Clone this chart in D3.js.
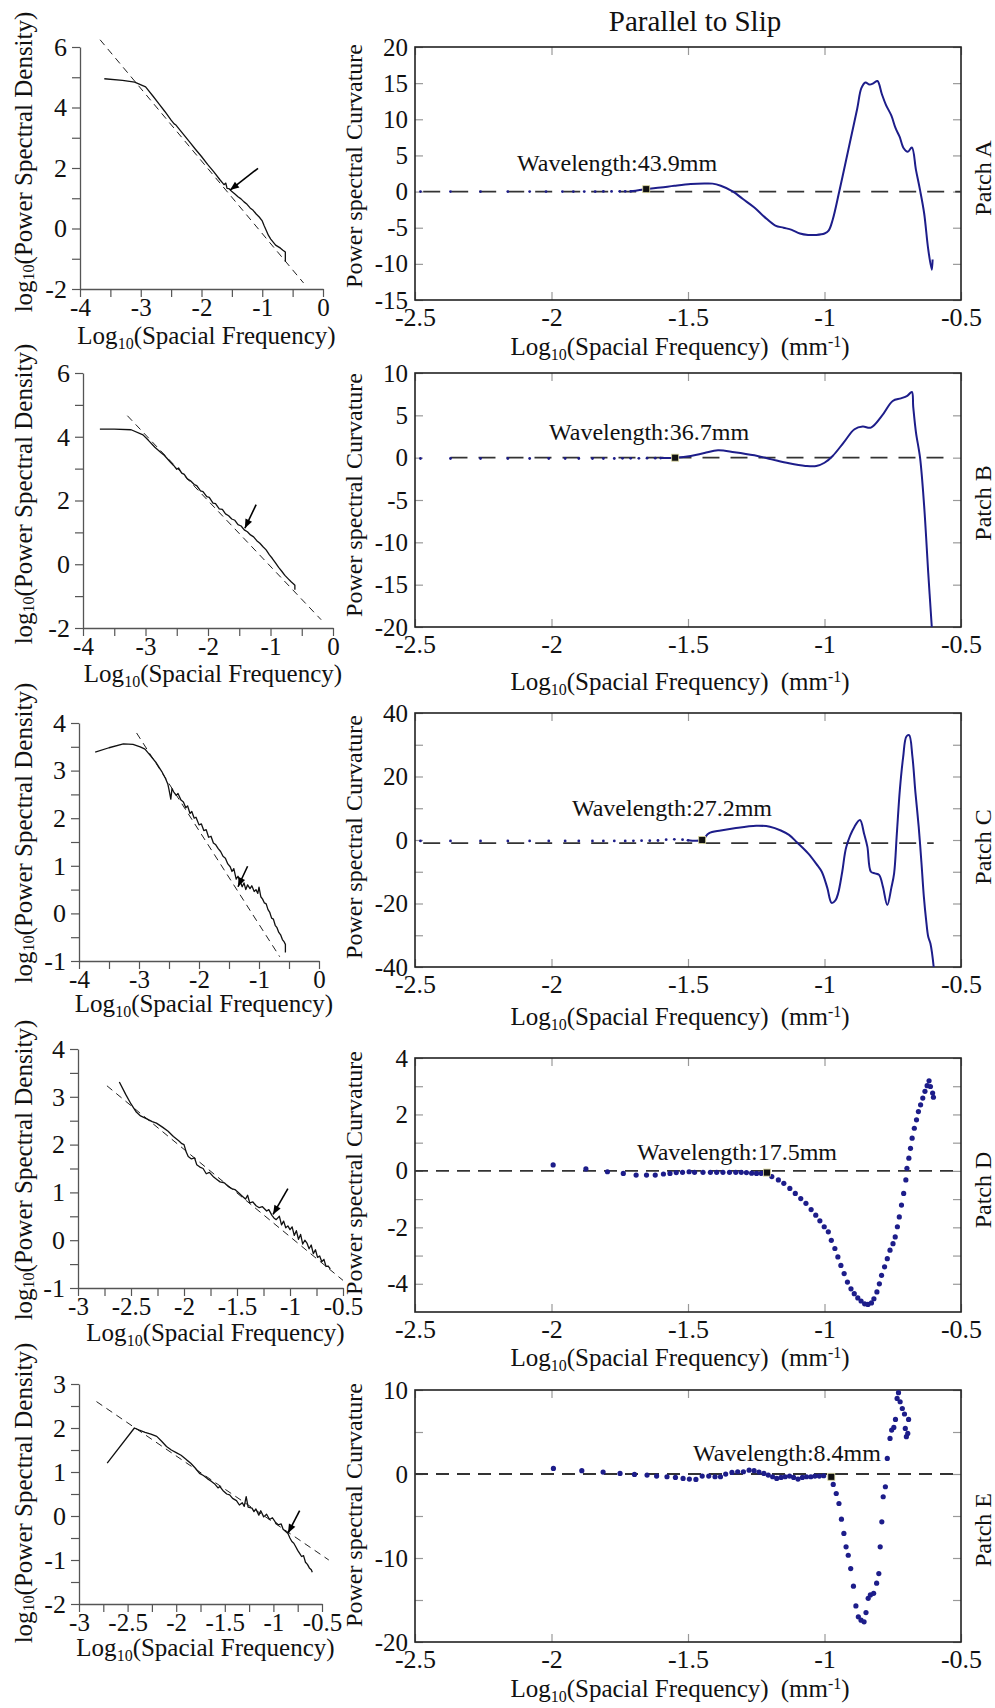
<!DOCTYPE html>
<html>
<head>
<meta charset="utf-8">
<script src="https://cdn.jsdelivr.net/npm/d3@7"></script>
<style>
  body { margin: 0; background: #fff; }
  svg { display: block; }
</style>
</head>
<body>
<svg id="fig" width="995" height="1708"></svg>
<script>
// ---------- left column: log10 PSD vs log10 frequency ----------
const psdA = [[-3.6,4.95],[-3.3,4.9],[-3.1,4.84],[-2.92,4.68],[-2.8,4.38],[-2.7,4.12],[-2.6,3.86],[-2.5,3.58],[-2.45,3.46],[-2.42,3.42],[-2.3,3.12],[-2.2,2.87],[-2.1,2.62],[-2.0,2.38],[-1.9,2.12],[-1.8,1.88],[-1.7,1.62],[-1.63,1.45],[-1.6,1.5],[-1.58,1.33],[-1.55,1.32],[-1.5,1.22],[-1.45,1.14],[-1.4,1.05],[-1.35,0.98],[-1.3,0.88],[-1.25,0.8],[-1.2,0.68],[-1.15,0.6],[-1.1,0.48],[-1.05,0.38],[-1.0,0.25],[-0.97,0.1],[-0.93,-0.08],[-0.9,-0.22],[-0.86,-0.35],[-0.82,-0.45],[-0.78,-0.55],[-0.74,-0.6],[-0.7,-0.65],[-0.66,-0.72],[-0.62,-0.78],[-0.62,-1.1]];
const fitA = [[-3.67,6.24],[-0.32,-1.8]];
const arrowA = [[-1.07,1.99],[-1.53,1.27]];

const psdB = [[-3.73,4.24],[-3.5,4.24],[-3.23,4.22],[-3.04,4.06],[-2.95,3.88],[-2.85,3.67],[-2.75,3.5],[-2.7,3.42],[-2.6,3.2],[-2.55,3.1],[-2.5,2.98],[-2.47,3.02],[-2.42,2.86],[-2.38,2.82],[-2.33,2.68],[-2.28,2.62],[-2.22,2.5],[-2.18,2.47],[-2.12,2.3],[-2.08,2.28],[-2.02,2.12],[-1.98,2.1],[-1.92,1.92],[-1.88,1.9],[-1.82,1.74],[-1.77,1.72],[-1.72,1.58],[-1.67,1.52],[-1.62,1.42],[-1.57,1.38],[-1.52,1.24],[-1.47,1.2],[-1.42,1.08],[-1.37,1.02],[-1.32,0.92],[-1.27,0.86],[-1.22,0.74],[-1.17,0.66],[-1.12,0.55],[-1.07,0.45],[-1.02,0.3],[-0.97,0.18],[-0.92,0.04],[-0.87,-0.1],[-0.82,-0.22],[-0.77,-0.35],[-0.72,-0.45],[-0.67,-0.55],[-0.63,-0.62],[-0.61,-0.66],[-0.61,-0.8]];
const fitB = [[-3.29,4.66],[-0.19,-1.74]];
const arrowB = [[-1.23,1.87],[-1.41,1.13]];

const psdC = [[-3.73,3.39],[-3.5,3.48],[-3.26,3.56],[-3.1,3.55],[-2.98,3.5],[-2.9,3.45],[-2.8,3.3],[-2.71,3.16],[-2.62,2.98],[-2.56,2.84],[-2.52,2.72],[-2.5,2.6],[-2.47,2.4],[-2.45,2.62],[-2.42,2.55],[-2.38,2.48],[-2.35,2.52],[-2.3,2.38],[-2.26,2.34],[-2.22,2.22],[-2.19,2.26],[-2.15,2.1],[-2.12,2.14],[-2.08,2.0],[-2.05,2.02],[-2.0,1.86],[-1.96,1.88],[-1.92,1.74],[-1.88,1.76],[-1.84,1.6],[-1.8,1.62],[-1.76,1.48],[-1.72,1.44],[-1.68,1.36],[-1.64,1.3],[-1.6,1.2],[-1.56,1.16],[-1.52,1.04],[-1.48,0.98],[-1.45,0.88],[-1.42,0.94],[-1.38,0.72],[-1.35,0.78],[-1.31,0.66],[-1.28,0.56],[-1.25,0.64],[-1.22,0.5],[-1.19,0.6],[-1.15,0.52],[-1.12,0.58],[-1.08,0.46],[-1.05,0.5],[-1.02,0.42],[-1.0,0.55],[-0.97,0.35],[-0.94,0.3],[-0.91,0.22],[-0.88,0.2],[-0.85,0.08],[-0.82,0.02],[-0.79,-0.1],[-0.76,-0.12],[-0.73,-0.25],[-0.7,-0.3],[-0.67,-0.4],[-0.64,-0.45],[-0.61,-0.55],[-0.58,-0.6],[-0.56,-0.65],[-0.56,-0.82]];
const fitC = [[-3.04,3.79],[-0.655,-0.91]];
const arrowC = [[-1.19,0.99],[-1.35,0.56]];

const psdD = [[-2.61,3.31],[-2.55,3.05],[-2.5,2.85],[-2.45,2.68],[-2.41,2.6],[-2.36,2.55],[-2.3,2.48],[-2.26,2.45],[-2.2,2.36],[-2.15,2.28],[-2.1,2.17],[-2.05,2.08],[-2.02,2.02],[-2.0,2.0],[-1.98,1.85],[-1.96,1.75],[-1.93,1.7],[-1.9,1.72],[-1.88,1.58],[-1.85,1.53],[-1.82,1.5],[-1.79,1.39],[-1.76,1.42],[-1.72,1.32],[-1.69,1.27],[-1.66,1.22],[-1.62,1.2],[-1.58,1.12],[-1.55,1.08],[-1.52,1.06],[-1.48,0.98],[-1.45,0.92],[-1.42,0.86],[-1.4,0.94],[-1.38,0.78],[-1.35,0.8],[-1.32,0.72],[-1.29,0.68],[-1.26,0.7],[-1.22,0.61],[-1.2,0.64],[-1.17,0.52],[-1.15,0.46],[-1.13,0.43],[-1.1,0.5],[-1.08,0.32],[-1.06,0.4],[-1.04,0.26],[-1.02,0.3],[-1.0,0.22],[-0.98,0.28],[-0.96,0.1],[-0.94,0.2],[-0.92,0.02],[-0.9,0.12],[-0.88,-0.08],[-0.86,0.0],[-0.84,-0.06],[-0.82,-0.18],[-0.8,-0.1],[-0.78,-0.28],[-0.76,-0.2],[-0.74,-0.36],[-0.72,-0.33],[-0.7,-0.45],[-0.68,-0.4],[-0.66,-0.55],[-0.64,-0.54],[-0.62,-0.6]];
const fitD = [[-2.727,3.23],[-0.5,-0.84]];
const arrowD = [[-1.02,1.08],[-1.16,0.54]];

const psdE = [[-2.71,1.2],[-2.43,2.0],[-2.38,1.95],[-2.32,1.9],[-2.26,1.86],[-2.2,1.81],[-2.15,1.7],[-2.1,1.58],[-2.05,1.5],[-2.0,1.44],[-1.95,1.38],[-1.89,1.27],[-1.85,1.2],[-1.8,1.08],[-1.76,0.97],[-1.72,0.92],[-1.68,0.85],[-1.64,0.79],[-1.6,0.72],[-1.57,0.64],[-1.55,0.67],[-1.52,0.58],[-1.48,0.5],[-1.45,0.48],[-1.42,0.4],[-1.38,0.35],[-1.35,0.25],[-1.32,0.3],[-1.3,0.22],[-1.28,0.44],[-1.26,0.2],[-1.22,0.18],[-1.2,0.1],[-1.18,0.16],[-1.15,0.02],[-1.13,0.12],[-1.1,-0.02],[-1.07,0.04],[-1.04,-0.08],[-1.01,-0.04],[-0.98,-0.14],[-0.95,-0.2],[-0.92,-0.18],[-0.9,-0.3],[-0.87,-0.36],[-0.85,-0.4],[-0.83,-0.5],[-0.81,-0.58],[-0.79,-0.62],[-0.77,-0.7],[-0.75,-0.78],[-0.73,-0.85],[-0.71,-0.92],[-0.69,-0.9],[-0.67,-1.05],[-0.65,-1.1],[-0.63,-1.18],[-0.61,-1.22],[-0.6,-1.28]];
const fitE = [[-2.82,2.6],[-0.43,-1.0]];
const arrowE = [[-0.73,0.12],[-0.85,-0.39]];

// tick values / labels, left column
const leftXTicksWide = [-4,-3.5,-3,-2.5,-2,-1.5,-1,-0.5,0];
const leftXLabelsWide = [-4,-3,-2,-1,0];
const leftXTicksNarrow = [-3,-2.75,-2.5,-2.25,-2,-1.75,-1.5,-1.25,-1,-0.75,-0.5];
const leftXLabelsNarrow = [-3,-2.5,-2,-1.5,-1,-0.5];
const leftYTicks6 = [-2,-1,0,1,2,3,4,5,6];
const leftYLabels6 = [-2,0,2,4,6];
const leftYTicks4 = [-1,-0.5,0,0.5,1,1.5,2,2.5,3,3.5,4];
const leftYLabels4 = [-1,0,1,2,3,4];
const leftYTicks3 = [-2,-1.5,-1,-0.5,0,0.5,1,1.5,2,2.5,3];
const leftYLabels3 = [-2,-1,0,1,2,3];

// ---------- right column: power spectral curvature ----------
const sparseA = [[-2.48,0],[-2.37,0],[-2.26,0],[-2.16,0],[-2.08,0],[-2.02,0],[-1.96,0],[-1.92,0],[-1.88,0],[-1.84,0],[-1.81,0.02],[-1.78,0.02],[-1.75,0.03],[-1.73,0.03],[-1.71,0.04]];
const curvA = [[-1.71,0.04],[-1.653,0.33],[-1.6,0.55],[-1.55,0.8],[-1.49,1.05],[-1.44,1.12],[-1.41,1.1],[-1.38,0.8],[-1.335,0.0],[-1.3,-1.0],[-1.257,-2.2],[-1.22,-3.5],[-1.18,-4.7],[-1.15,-5.0],[-1.12,-5.3],[-1.09,-5.8],[-1.06,-6.0],[-1.03,-6.0],[-1.0,-5.8],[-0.985,-5.4],[-0.97,-3.9],[-0.946,0.0],[-0.92,4.5],[-0.9,8.0],[-0.88,11.5],[-0.865,14.3],[-0.85,15.1],[-0.835,14.8],[-0.82,15.0],[-0.806,15.3],[-0.79,13.5],[-0.775,12.0],[-0.755,10.5],[-0.74,8.8],[-0.725,7.6],[-0.71,6.0],[-0.695,5.5],[-0.68,6.1],[-0.665,3.0],[-0.65,0.2],[-0.635,-3.0],[-0.62,-8.0],[-0.607,-10.8],[-0.604,-9.4]];
const markA = [-1.653,0.33];

const sparseB = [[-2.48,-0.1],[-2.37,-0.1],[-2.26,-0.1],[-2.16,-0.1],[-2.08,-0.1],[-2.01,-0.1],[-1.95,-0.1],[-1.9,-0.1],[-1.85,-0.1],[-1.81,-0.1],[-1.77,-0.1],[-1.74,-0.08],[-1.71,-0.08],[-1.68,-0.08],[-1.65,-0.06],[-1.62,-0.06],[-1.6,-0.05]];
const curvB = [[-1.6,-0.05],[-1.547,0.0],[-1.49,0.2],[-1.44,0.55],[-1.39,0.87],[-1.33,0.65],[-1.257,0.28],[-1.194,-0.2],[-1.13,-0.67],[-1.07,-0.97],[-1.03,-0.99],[-1.0,-0.6],[-0.97,0.2],[-0.93,1.78],[-0.89,3.36],[-0.86,3.67],[-0.83,3.55],[-0.79,4.93],[-0.75,6.7],[-0.72,7.0],[-0.697,7.3],[-0.68,7.76],[-0.675,6.0],[-0.665,3.0],[-0.65,0],[-0.635,-5.7],[-0.62,-13.6],[-0.607,-20]];
const markB = [-1.547,0];

const sparseC = [[-2.48,-0.3],[-2.37,-0.3],[-2.26,-0.3],[-2.16,-0.3],[-2.08,-0.3],[-2.01,-0.3],[-1.95,-0.3],[-1.9,-0.3],[-1.85,-0.3],[-1.81,-0.3],[-1.77,-0.3],[-1.73,-0.3],[-1.7,-0.25],[-1.67,-0.2],[-1.64,-0.2],[-1.61,-0.15],[-1.58,0.1],[-1.55,0.2],[-1.52,0.1],[-1.5,-0.1]];
const curvC = [[-1.5,-0.1],[-1.448,0],[-1.424,2.1],[-1.38,3.0],[-1.33,3.7],[-1.25,4.5],[-1.2,4.2],[-1.16,3.0],[-1.13,1.6],[-1.1,-0.8],[-1.06,-4.2],[-1.03,-7.5],[-1.01,-10],[-0.99,-15],[-0.974,-19.8],[-0.96,-19],[-0.95,-16.8],[-0.935,-10],[-0.92,-2.1],[-0.89,4.2],[-0.87,6.3],[-0.855,2],[-0.843,-2.1],[-0.83,-10],[-0.815,-10.5],[-0.8,-11],[-0.786,-14.7],[-0.77,-20.5],[-0.755,-15],[-0.745,-10.5],[-0.735,2],[-0.724,15.8],[-0.712,26],[-0.7,32.6],[-0.69,33],[-0.678,26.3],[-0.667,15],[-0.655,4.2],[-0.645,-7],[-0.636,-17.9],[-0.628,-25],[-0.62,-30.5],[-0.612,-32.6],[-0.6,-40]];
const markC = [-1.448,0];

const dotsD = [[-1.994,0.21],[-1.874,0.07],[-1.795,-0.03],[-1.737,-0.09],[-1.69,-0.15],[-1.652,-0.15],[-1.62,-0.15],[-1.59,-0.11],[-1.566,-0.09],[-1.543,-0.06],[-1.52,-0.05],[-1.496,-0.03],[-1.476,-0.05],[-1.445,-0.05],[-1.418,-0.05],[-1.395,-0.05],[-1.372,-0.05],[-1.348,-0.05],[-1.325,-0.05],[-1.305,-0.05],[-1.286,-0.06],[-1.267,-0.08],[-1.249,-0.09],[-1.231,-0.09],[-1.193,-0.2],[-1.169,-0.32],[-1.149,-0.44],[-1.127,-0.62],[-1.107,-0.8],[-1.087,-0.98],[-1.068,-1.15],[-1.049,-1.37],[-1.032,-1.57],[-1.017,-1.77],[-1.001,-1.98],[-0.986,-2.16],[-0.975,-2.46],[-0.962,-2.75],[-0.951,-3.05],[-0.94,-3.35],[-0.928,-3.64],[-0.916,-3.94],[-0.903,-4.18],[-0.891,-4.35],[-0.878,-4.5],[-0.866,-4.61],[-0.853,-4.71],[-0.841,-4.73],[-0.828,-4.68],[-0.819,-4.53],[-0.808,-4.29],[-0.799,-4.0],[-0.791,-3.7],[-0.78,-3.4],[-0.77,-3.11],[-0.76,-2.81],[-0.749,-2.58],[-0.741,-2.34],[-0.733,-1.98],[-0.726,-1.63],[-0.718,-1.21],[-0.71,-0.8],[-0.702,-0.32],[-0.698,0.09],[-0.691,0.45],[-0.685,0.8],[-0.679,1.16],[-0.671,1.51],[-0.663,1.81],[-0.656,2.1],[-0.648,2.34],[-0.64,2.58],[-0.632,2.82],[-0.624,3.02],[-0.617,3.19],[-0.612,2.99],[-0.604,2.76],[-0.601,2.61]];
const markD = [-1.211,-0.06];

const dotsE = [[-1.993,0.66],[-1.889,0.39],[-1.811,0.23],[-1.749,0.07],[-1.696,-0.05],[-1.65,-0.13],[-1.615,-0.25],[-1.577,-0.33],[-1.546,-0.41],[-1.518,-0.53],[-1.495,-0.61],[-1.471,-0.65],[-1.448,-0.25],[-1.424,-0.25],[-1.401,-0.33],[-1.381,-0.33],[-1.362,-0.01],[-1.339,0.19],[-1.318,0.27],[-1.297,0.27],[-1.276,0.46],[-1.258,0.39],[-1.24,0.23],[-1.222,0.07],[-1.206,-0.13],[-1.19,-0.33],[-1.175,-0.53],[-1.159,-0.41],[-1.144,-0.33],[-1.128,-0.25],[-1.113,-0.41],[-1.097,-0.61],[-1.081,-0.41],[-1.066,-0.33],[-1.05,-0.33],[-1.035,-0.25],[-1.019,-0.25],[-1.003,-0.21],[-0.968,-1.24],[-0.957,-2.32],[-0.947,-3.51],[-0.938,-5.38],[-0.929,-7.08],[-0.921,-8.67],[-0.913,-9.67],[-0.904,-11.26],[-0.894,-13.36],[-0.885,-15.7],[-0.876,-17.0],[-0.866,-17.4],[-0.855,-17.6],[-0.848,-16.5],[-0.84,-14.8],[-0.832,-14.4],[-0.82,-14.2],[-0.809,-13.0],[-0.801,-11.85],[-0.796,-8.67],[-0.79,-5.69],[-0.785,-2.71],[-0.777,-1.52],[-0.77,1.86],[-0.76,4.24],[-0.754,5.23],[-0.746,5.55],[-0.74,6.5],[-0.734,9.0],[-0.729,9.68],[-0.723,8.6],[-0.715,7.8],[-0.707,7.14],[-0.704,5.43],[-0.7,4.44],[-0.695,4.83],[-0.692,6.5]];
const markE = [-0.975,-0.33];

const zeroLevels = [0, 0, -1, 0, 0];
const zeroSpans = [[-2.47,-0.5],[-2.37,-0.53],[-2.47,-0.6],[-2.5,-0.5],[-2.5,-0.5]];
const wavelengths = ['Wavelength:43.9mm','Wavelength:36.7mm','Wavelength:27.2mm','Wavelength:17.5mm','Wavelength:8.4mm'];
const patches = ['Patch A','Patch B','Patch C','Patch D','Patch E'];

const rightXTicks = [-2.5,-2,-1.5,-1,-0.5];
const rightYTicksA = [-15,-10,-5,0,5,10,15,20];
const rightYTicksB = [-20,-15,-10,-5,0,5,10];
const rightYTicksC = [-40,-30,-20,-10,0,10,20,30,40];
const rightYLabelsC = [-40,-20,0,20,40];
const rightYTicksD = [-4,-3,-2,-1,0,1,2,3,4];
const rightYLabelsD = [-4,-2,0,2,4];
const rightYTicksE = [-20,-15,-10,-5,0,5,10];
const rightYLabelsE = [-20,-10,0,10];

// ---------- drawing ----------
const FONT = '"Liberation Serif","Times New Roman",Times,serif';
const NAVY = '#1d1d8a';
const svg = d3.select('#fig').attr('font-family', FONT);

svg.append('defs').append('marker')
  .attr('id', 'arr').attr('viewBox', '0 0 10 10')
  .attr('refX', 10).attr('refY', 5)
  .attr('markerWidth', 12).attr('markerHeight', 9)
  .attr('markerUnits', 'userSpaceOnUse').attr('orient', 'auto')
  .append('path').attr('d', 'M0,1 L10,5 L0,9 Z').attr('fill', '#000');

const leftPanels = [
  {data: psdA, fit: fitA, arrow: arrowA, xDom: [-4,0], yDom: [-2,6], xT: leftXTicksWide, xL: leftXLabelsWide, yT: leftYTicks6, yL: leftYLabels6, px: [80,323], py: [289,47], titleY: 344, yMid: 162},
  {data: psdB, fit: fitB, arrow: arrowB, xDom: [-4,0], yDom: [-2,6], xT: leftXTicksWide, xL: leftXLabelsWide, yT: leftYTicks6, yL: leftYLabels6, px: [83,333], py: [628,373], titleY: 682, yMid: 494},
  {data: psdC, fit: fitC, arrow: arrowC, xDom: [-4,0], yDom: [-1,4], xT: leftXTicksWide, xL: leftXLabelsWide, yT: leftYTicks4, yL: leftYLabels4, px: [79,319], py: [961,723], titleY: 1012, yMid: 833},
  {data: psdD, fit: fitD, arrow: arrowD, xDom: [-3,-0.5], yDom: [-1,4], xT: leftXTicksNarrow, xL: leftXLabelsNarrow, yT: leftYTicks4, yL: leftYLabels4, px: [78,343], py: [1288,1049], titleY: 1341, yMid: 1170},
  {data: psdE, fit: fitE, arrow: arrowE, xDom: [-3,-0.5], yDom: [-2,3], xT: leftXTicksNarrow, xL: leftXLabelsNarrow, yT: leftYTicks3, yL: leftYLabels3, px: [79,322], py: [1604,1384], titleY: 1656, yMid: 1493}
];

const rightPanels = [
  {line: curvA, sparse: sparseA, dots: null, mark: markA, yDom: [-15,20], yT: rightYTicksA, yL: rightYTicksA, py: [300,47], waveAt: [-2.126,3.95], titleY: 355, yMid: 166, pMid: 178},
  {line: curvB, sparse: sparseB, dots: null, mark: markB, yDom: [-20,10], yT: rightYTicksB, yL: rightYTicksB, py: [627,373], waveAt: [-2.009,3.03], titleY: 690, yMid: 495, pMid: 503},
  {line: curvC, sparse: sparseC, dots: null, mark: markC, yDom: [-40,40], yT: rightYTicksC, yL: rightYLabelsC, py: [967,713], waveAt: [-1.925,10.1], titleY: 1025, yMid: 837, pMid: 847},
  {line: null, sparse: null, dots: dotsD, mark: markD, yDom: [-5,4], yT: rightYTicksD, yL: rightYLabelsD, py: [1312,1058], waveAt: [-1.687,0.67], titleY: 1366, yMid: 1173, pMid: 1190},
  {line: null, sparse: null, dots: dotsE, mark: markE, yDom: [-20,10], yT: rightYTicksE, yL: rightYLabelsE, py: [1642,1390], waveAt: [-1.482,2.5], titleY: 1697, yMid: 1505, pMid: 1530}
];

function styleAxis(g, color, keepDomain, size) {
  g.attr('font-family', FONT).attr('font-size', size);
  g.selectAll('.tick line').attr('stroke', color).attr('stroke-width', 1.2);
  g.selectAll('.tick text').attr('fill', '#111');
  if (keepDomain) g.select('.domain').attr('stroke', color).attr('stroke-width', 1.3);
  else g.select('.domain').remove();
}

const lbl = (list) => (d) => list.includes(d) ? String(d) : '';

// text with a "10" subscript, optional "mm-1" unit
function freqTitle(g, x, y, withUnit) {
  const t = g.append('text').attr('x', x).attr('y', y)
    .attr('text-anchor', 'middle').attr('font-size', 25).attr('fill', '#111');
  t.append('tspan').text('Log');
  t.append('tspan').attr('font-size', 16).attr('dy', 5).text('10');
  t.append('tspan').attr('dy', -5).text('(Spacial Frequency)');
  if (withUnit) {
    t.append('tspan').attr('dx', 12).text('(mm');
    t.append('tspan').attr('font-size', 16).attr('dy', -8).text('-1');
    t.append('tspan').attr('dy', 8).text(')');
  }
}

leftPanels.forEach(p => {
  const g = svg.append('g');
  const x = d3.scaleLinear().domain(p.xDom).range(p.px);
  const y = d3.scaleLinear().domain(p.yDom).range(p.py);

  g.append('g').attr('transform', `translate(0,${p.py[0]})`)
    .call(d3.axisBottom(x).tickValues(p.xT).tickFormat(lbl(p.xL)).tickSize(8).tickSizeOuter(0).tickPadding(1))
    .call(s => styleAxis(s, '#555', true, 25));
  g.append('g').attr('transform', `translate(${p.px[0]},0)`)
    .call(d3.axisLeft(y).tickValues(p.yT).tickFormat(lbl(p.yL)).tickSize(8).tickSizeOuter(0).tickPadding(5))
    .call(s => styleAxis(s, '#555', true, 26));

  const line = d3.line().x(d => x(d[0])).y(d => y(d[1]));
  g.append('path').attr('d', line(p.fit)).attr('fill', 'none')
    .attr('stroke', '#222').attr('stroke-width', 1).attr('stroke-dasharray', '7,5');
  g.append('path').attr('d', line(p.data)).attr('fill', 'none')
    .attr('stroke', '#111').attr('stroke-width', 1.3).attr('stroke-linejoin', 'round');
  g.append('path').attr('d', line(p.arrow)).attr('fill', 'none')
    .attr('stroke', '#000').attr('stroke-width', 1.6).attr('marker-end', 'url(#arr)');

  freqTitle(g, (p.px[0] + p.px[1]) / 2 + 5, p.titleY, false);

  const yt = g.append('text').attr('transform', `translate(23,${p.yMid}) rotate(-90)`)
    .attr('text-anchor', 'middle').attr('dominant-baseline', 'central')
    .attr('font-size', 25).attr('fill', '#111');
  yt.append('tspan').text('log');
  yt.append('tspan').attr('font-size', 16).attr('dy', 5).text('10');
  yt.append('tspan').attr('dy', -5).text('(Power Spectral Density)');
});

const RX = [415, 961];

rightPanels.forEach((p, i) => {
  const g = svg.append('g');
  const x = d3.scaleLinear().domain([-2.5, -0.5]).range(RX);
  const y = d3.scaleLinear().domain(p.yDom).range(p.py);
  const [bot, top] = p.py;

  g.append('g').attr('transform', `translate(0,${bot})`)
    .call(d3.axisBottom(x).tickValues(rightXTicks).tickFormat(d => String(d)).tickSize(-8).tickSizeOuter(0).tickPadding(8))
    .call(s => styleAxis(s, '#999', false, 26));
  g.append('g').attr('transform', `translate(0,${top})`)
    .call(d3.axisTop(x).tickValues(rightXTicks).tickFormat('').tickSize(-8).tickSizeOuter(0))
    .call(s => styleAxis(s, '#999', false, 26));
  g.append('g').attr('transform', `translate(${RX[0]},0)`)
    .call(d3.axisLeft(y).tickValues(p.yT).tickFormat(lbl(p.yL)).tickSize(-8).tickSizeOuter(0).tickPadding(7))
    .call(s => styleAxis(s, '#999', false, 25));
  g.append('g').attr('transform', `translate(${RX[1]},0)`)
    .call(d3.axisRight(y).tickValues(p.yT).tickFormat('').tickSize(-8).tickSizeOuter(0))
    .call(s => styleAxis(s, '#999', false, 25));

  g.append('rect').attr('x', RX[0]).attr('y', top)
    .attr('width', RX[1] - RX[0]).attr('height', bot - top)
    .attr('fill', 'none').attr('stroke', '#222').attr('stroke-width', 1.6);

  const clipId = 'clip' + i;
  g.append('clipPath').attr('id', clipId).append('rect')
    .attr('x', RX[0]).attr('y', top).attr('width', RX[1] - RX[0]).attr('height', bot - top);
  const plot = g.append('g').attr('clip-path', `url(#${clipId})`);

  // zero reference line
  const zl = zeroSpans[i].map(v => [v, zeroLevels[i]]);
  plot.append('path').attr('d', d3.line().x(d => x(d[0])).y(d => y(d[1]))(zl))
    .attr('fill', 'none').attr('stroke', '#333').attr('stroke-width', 1.8)
    .attr('stroke-dasharray', p.dots ? '13,8' : '17,11');

  if (p.sparse) {
    plot.selectAll(null).data(p.sparse).join('circle')
      .attr('cx', d => x(d[0])).attr('cy', d => y(d[1])).attr('r', 1.4).attr('fill', NAVY);
  }
  if (p.line) {
    plot.append('path')
      .attr('d', d3.line().x(d => x(d[0])).y(d => y(d[1])).curve(d3.curveCatmullRom.alpha(0.5))(p.line))
      .attr('fill', 'none').attr('stroke', NAVY).attr('stroke-width', 2).attr('stroke-linejoin', 'round');
  }
  if (p.dots) {
    plot.selectAll(null).data(p.dots).join('circle')
      .attr('cx', d => x(d[0])).attr('cy', d => y(d[1])).attr('r', 2.6).attr('fill', NAVY);
  }

  g.append('rect').attr('x', x(p.mark[0]) - 3.5).attr('y', y(p.mark[1]) - 3.5)
    .attr('width', 7).attr('height', 7).attr('fill', '#111')
    .attr('stroke', '#dcd9a0').attr('stroke-width', 0.8);

  g.append('text').attr('x', x(p.waveAt[0])).attr('y', y(p.waveAt[1]))
    .attr('dominant-baseline', 'central').attr('font-size', 24).attr('fill', '#111')
    .text(wavelengths[i]);

  freqTitle(g, 680, p.titleY, true);

  g.append('text').attr('transform', `translate(354,${p.yMid}) rotate(-90)`)
    .attr('text-anchor', 'middle').attr('dominant-baseline', 'central')
    .attr('font-size', 24).attr('fill', '#111').text('Power spectral Curvature');

  g.append('text').attr('transform', `translate(983,${p.pMid}) rotate(-90)`)
    .attr('text-anchor', 'middle').attr('dominant-baseline', 'central')
    .attr('font-size', 24).attr('fill', '#111').text(patches[i]);
});

svg.append('text').attr('x', 695).attr('y', 31)
  .attr('text-anchor', 'middle').attr('font-size', 29).attr('fill', '#111')
  .text('Parallel to Slip');
</script>
</body>
</html>
